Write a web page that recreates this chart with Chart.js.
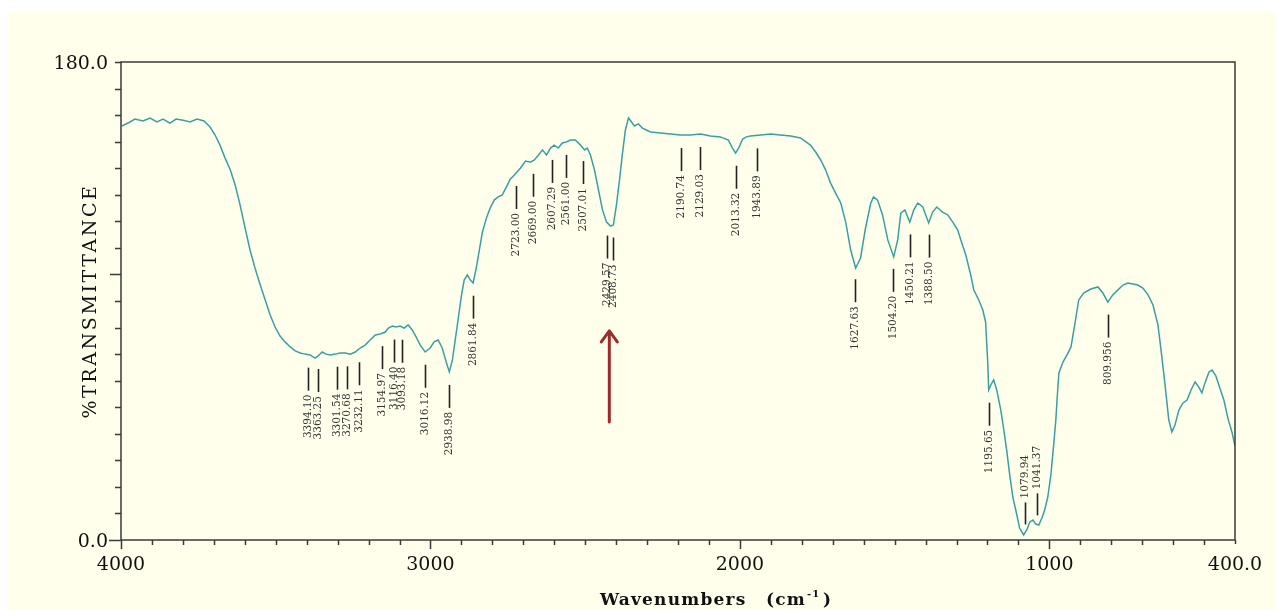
<!DOCTYPE html>
<html>
<head>
<meta charset="utf-8">
<script src="https://cdn.jsdelivr.net/npm/chart.js@4.4.0/dist/chart.umd.min.js"></script>
<style>
  html, body { margin: 0; padding: 0; background: #fff; }
  #sheet { position: absolute; left: 8px; top: 12px; width: 1268px; height: 598px; background: #FFFFEB; }
  #ir { position: absolute; left: 0; top: 0; }
</style>
</head>
<body>
<div id="sheet"></div>
<canvas id="ir" width="1282" height="610"></canvas>
<script>
// spectrum, cm-1 (descending) and %T
const wavenumbers = [3997,3971,3955,3929,3906,3884,3864,3842,3822,3799,3777,3754,3732,3712,3696,3680,3664,3647,3631,3615,
  3599,3583,3567,3550,3534,3518,3502,3486,3470,3453,3437,3421,3405,3389,3373,3363,3350,3337,3324,3308,
  3292,3275,3259,3243,3227,3211,3195,3178,3162,3146,3136,3123,3111,3098,3085,3072,3059,3046,3033,3017,
  3001,2988,2975,2962,2949,2939,2929,2920,2910,2900,2891,2881,2871,2862,2852,2842,2832,2819,2807,2794,
  2781,2768,2755,2742,2726,2709,2693,2677,2664,2651,2638,2625,2612,2600,2587,2574,2561,2548,2532,2515,
  2502,2493,2483,2470,2457,2444,2431,2418,2409,2399,2389,2380,2370,2360,2350,2341,2328,2315,2302,2289,
  2257,2224,2192,2160,2127,2095,2063,2037,2024,2014,2004,1991,1979,1966,1933,1901,1869,1836,1804,1772,
  1755,1739,1723,1707,1691,1674,1658,1642,1626,1610,1594,1577,1568,1555,1539,1522,1503,1490,1480,1467,
  1451,1438,1425,1409,1390,1377,1364,1345,1328,1312,1296,1286,1270,1254,1244,1228,1215,1206,1199,1196,
  1189,1180,1170,1157,1147,1138,1128,1118,1105,1096,1083,1073,1063,1053,1044,1034,1024,1015,1005,995,
  986,979,973,969,956,943,930,918,905,889,866,843,827,811,795,779,762,746,730,714,
  698,681,665,649,639,626,614,604,594,581,568,555,542,529,517,507,497,484,474,462,
  449,436,423,410,400];
const transmittance = [155.9,157.4,158.5,157.8,158.9,157.4,158.5,157.0,158.5,158.1,157.4,158.5,157.8,155.5,152.5,148.7,143.9,139.4,133.7,126.1,
  117.5,109.2,102.4,96.0,90.4,84.7,80.2,76.8,74.6,72.7,71.2,70.4,70.0,69.7,68.5,69.3,70.8,70.0,69.7,70.0,
  70.4,70.4,70.0,70.8,72.3,73.4,75.3,77.2,77.6,78.3,79.8,80.6,80.2,80.6,79.8,81.0,79.1,76.4,73.4,70.8,
  72.3,74.6,75.3,72.3,67.0,63.3,67.8,75.3,83.6,91.9,97.9,99.8,97.9,96.8,102.4,109.2,116.0,121.3,125.0,128.0,
  129.2,129.9,132.9,135.9,137.8,140.1,142.7,142.3,143.1,145.0,146.9,145.0,147.6,148.7,147.6,149.5,149.9,150.6,150.6,148.7,
  146.9,147.6,145.0,139.4,131.8,124.3,119.7,118.2,118.6,126.1,135.6,145.0,154.4,158.9,157.4,155.9,156.7,155.1,154.4,153.6,
  153.3,152.9,152.5,152.5,152.9,152.1,151.8,150.6,147.6,145.7,147.6,151.0,151.8,152.1,152.5,152.9,152.5,152.1,151.4,148.7,
  146.1,143.1,139.4,134.4,130.7,126.9,119.7,109.2,102.4,106.2,117.5,126.9,129.2,128.0,122.4,113.0,106.6,113.0,123.1,124.3,
  119.7,124.3,126.9,125.4,119.4,123.5,125.4,123.5,122.4,119.7,116.7,113.0,107.3,99.8,94.1,90.4,86.6,82.1,66.7,56.5,
  58.4,60.3,56.5,49.0,41.4,33.9,24.5,16.2,9.4,4.5,1.9,3.8,6.8,7.5,6.0,5.6,8.3,11.3,16.2,24.5,
  35.8,45.2,56.5,62.9,67.0,69.7,72.7,81.0,90.4,93.0,94.5,95.3,93.0,89.6,92.3,94.1,96.0,96.8,96.4,96.0,
  94.9,92.3,88.5,81.0,71.5,58.4,45.2,40.7,43.3,49.0,51.6,52.7,56.5,59.5,57.6,55.4,59.1,63.3,64.0,61.8,
  57.2,52.7,45.9,40.7,35.4];

const peakLabels = ['3394.10','3363.25','3301.54','3270.68','3232.11','3154.97','3116.40','3093.18','3016.12','2938.98',
  '2861.84','2723.00','2669.00','2607.29','2561.00','2507.01','2429.57','2408.73','2190.74','2129.03',
  '2013.32','1943.89','1627.63','1504.20','1450.21','1388.50','1195.65','1079.94','1041.37','809.956'];

const xTickValues = [4000, 3000, 2000, 1000, 400];
const xTickLabels = ['4000', '3000', '2000', '1000', '400.0'];
const yTickValues = [0, 180];
const yTickLabels = ['0.0', '180.0'];

// arrow pointing at the 2400 band: position in cm-1, tail and tip in %T
const arrowAt = 2422;
const arrowTail = 44.4;
const arrowTip = 79.1;

const points = wavenumbers.map((w, i) => ({ x: w, y: transmittance[i] }));

function curveAt(w) {
  for (let i = 0; i < wavenumbers.length - 1; i++) {
    const a = wavenumbers[i], b = wavenumbers[i + 1];
    if (w <= a && w >= b) {
      const t = (a - w) / (a - b);
      return transmittance[i] + t * (transmittance[i + 1] - transmittance[i]);
    }
  }
  return transmittance[transmittance.length - 1];
}

const SERIF = '"DejaVu Serif", "Liberation Serif", serif';

const spectrumMarks = {
  id: 'spectrumMarks',
  afterDatasetsDraw(chart) {
    const ctx = chart.ctx, xs = chart.scales.x, ys = chart.scales.y;
    const { left, right, top, bottom } = chart.chartArea;
    ctx.save();

    // frame
    ctx.strokeStyle = '#3b3b3b';
    ctx.lineWidth = 1.5;
    ctx.strokeRect(left, top, right - left, bottom - top);

    // y ticks every 10 %T
    ctx.beginPath();
    for (let v = 0; v <= 180; v += 10) {
      const y = Math.round(ys.getPixelForValue(v)) + 0.5;
      const len = v === 0 ? 12 : (v === 100 ? 11 : 6);
      ctx.moveTo(left - len, y); ctx.lineTo(left, y);
    }
    // x ticks every 100 cm-1
    for (let w = 400; w <= 4000; w += 100) {
      const x = Math.round(xs.getPixelForValue(w)) + 0.5;
      const len = w % 1000 === 0 ? 9 : (w === 400 ? 4 : 5);
      ctx.moveTo(x, bottom); ctx.lineTo(x, bottom + len);
    }
    ctx.stroke();

    // tick labels
    ctx.fillStyle = '#111';
    ctx.font = '19px ' + SERIF;
    ctx.textAlign = 'right';
    ctx.textBaseline = 'alphabetic';
    yTickValues.forEach((v, i) => ctx.fillText(yTickLabels[i], left - 13, ys.getPixelForValue(v) + 7));
    ctx.textAlign = 'center';
    xTickValues.forEach((v, i) => ctx.fillText(xTickLabels[i], xs.getPixelForValue(v), bottom + 30));

    // axis titles
    ctx.save();
    ctx.translate(91, (top + bottom) / 2);
    ctx.rotate(-Math.PI / 2);
    ctx.font = '19px ' + SERIF;
    ctx.letterSpacing = '2.6px';
    ctx.textAlign = 'center';
    ctx.textBaseline = 'middle';
    ctx.fillText('%TRANSMITTANCE', 0, 0);
    ctx.restore();

    ctx.save();
    ctx.textAlign = 'left';
    ctx.textBaseline = 'alphabetic';
    ctx.font = 'bold 17px ' + SERIF;
    ctx.letterSpacing = '1.2px';
    let tx = 600;
    const ty = 605;
    ctx.fillText('Wavenumbers', tx, ty);
    tx = Math.max(tx + ctx.measureText('Wavenumbers').width + 14, 766);
    ctx.fillText('(cm', tx, ty);
    tx += ctx.measureText('(cm').width + 1;
    ctx.font = 'bold 10px ' + SERIF;
    ctx.letterSpacing = '1px';
    ctx.fillText('-1', tx, ty - 8);
    tx += ctx.measureText('-1').width + 3;
    ctx.font = 'bold 17px ' + SERIF;
    ctx.fillText(')', tx, ty);
    ctx.restore();

    // peak markers with rotated labels
    ctx.strokeStyle = '#222';
    ctx.fillStyle = '#333';
    ctx.lineWidth = 1.6;
    ctx.font = '10.5px ' + SERIF;
    ctx.textBaseline = 'middle';
    peakLabels.forEach(lbl => {
      const w = parseFloat(lbl);
      const x = Math.round(xs.getPixelForValue(w)) + 0.5;
      const cy = ys.getPixelForValue(curveAt(w));
      const tw = ctx.measureText(lbl).width;
      let y0, y1, below = cy + 13 + 23 + 4 + tw <= bottom;
      if (below) { y0 = cy + 13; y1 = y0 + 23; }
      else { y1 = cy - 9; y0 = y1 - 22; }
      ctx.beginPath(); ctx.moveTo(x, y0); ctx.lineTo(x, y1); ctx.stroke();
      ctx.save();
      ctx.translate(x, below ? y1 + 4 : y0 - 4);
      ctx.rotate(-Math.PI / 2);
      ctx.textAlign = below ? 'right' : 'left';
      ctx.fillText(lbl, 0, 0);
      ctx.restore();
    });

    // red arrow
    const ax = xs.getPixelForValue(arrowAt);
    const yTail = ys.getPixelForValue(arrowTail), yTip = ys.getPixelForValue(arrowTip);
    ctx.strokeStyle = '#9e2b2c';
    ctx.lineWidth = 3;
    ctx.lineCap = 'round';
    ctx.lineJoin = 'round';
    ctx.beginPath();
    ctx.moveTo(ax, yTail); ctx.lineTo(ax, yTip + 2);
    ctx.moveTo(ax - 8, yTip + 12); ctx.lineTo(ax, yTip + 1); ctx.lineTo(ax + 8, yTip + 12);
    ctx.stroke();

    ctx.restore();
  }
};

new Chart(document.getElementById('ir'), {
  type: 'line',
  data: {
    datasets: [{
      data: points,
      borderColor: '#3a9fa3',
      borderWidth: 1.5,
      pointRadius: 0,
      tension: 0,
      fill: false
    }]
  },
  options: {
    responsive: false,
    animation: false,
    layout: { padding: { left: 121, top: 62, right: 47, bottom: 70 } },
    plugins: { legend: { display: false }, tooltip: { enabled: false } },
    scales: {
      x: { type: 'linear', reverse: true, min: 400, max: 4000, display: false },
      y: { min: 0, max: 180, display: false }
    }
  },
  plugins: [spectrumMarks]
});
</script>
</body>
</html>
